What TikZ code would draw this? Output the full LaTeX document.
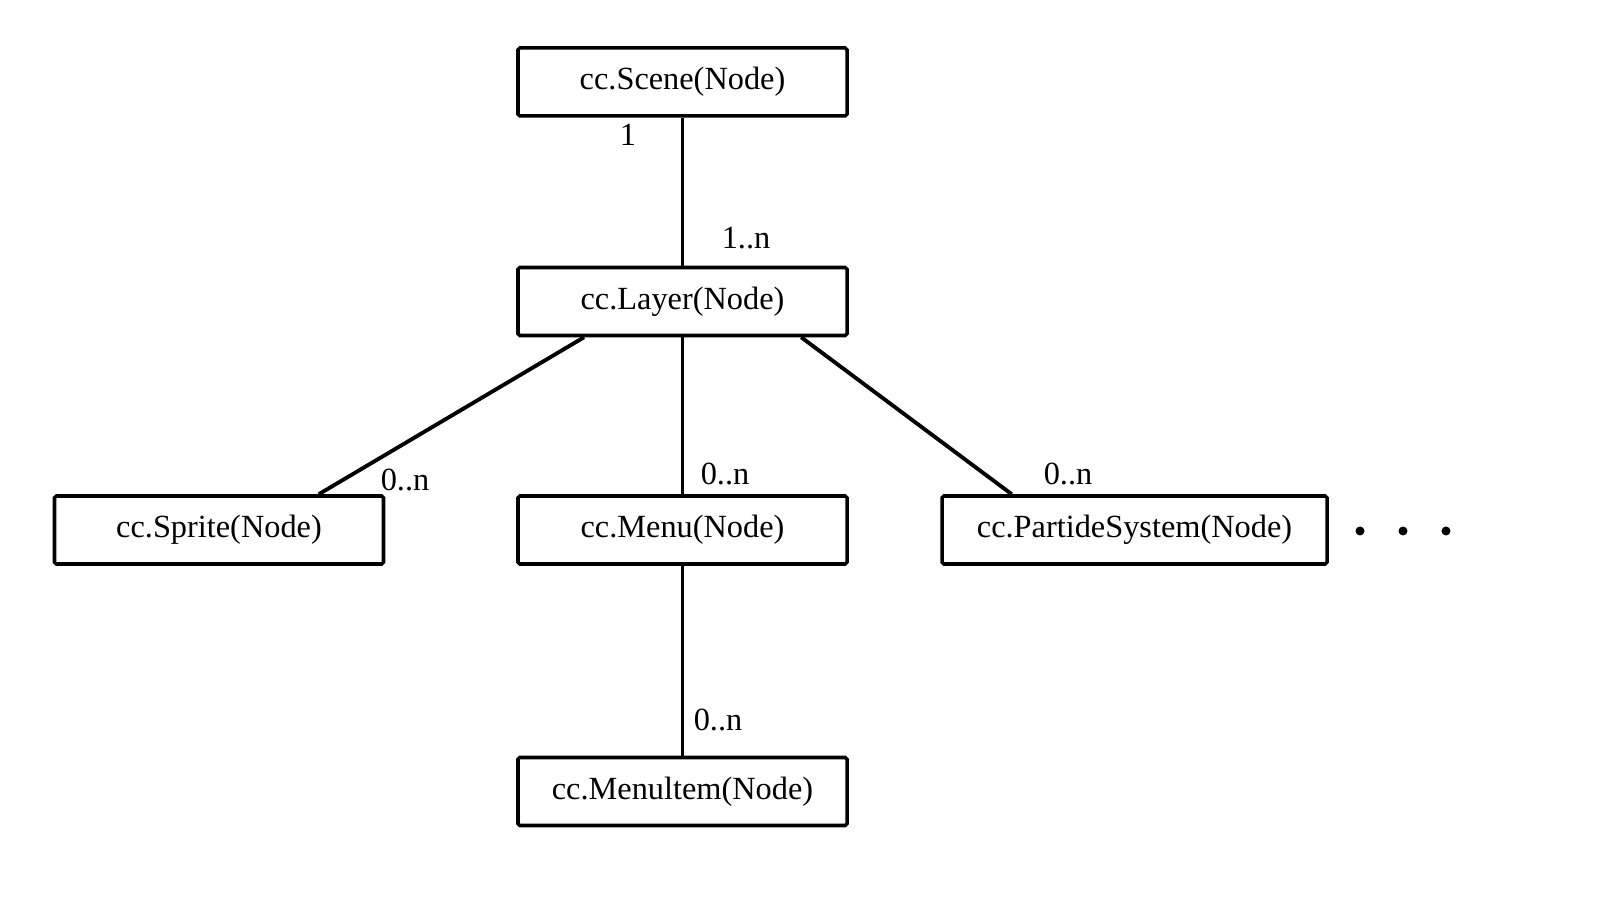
\documentclass[tikz,border=0pt]{standalone}
\usepackage{fontspec}
\setmainfont{Liberation Serif}
\usetikzlibrary{calc}

\tikzset{
  classbox/.style={draw, line width=1pt, rounded corners=0.5pt, minimum width=3.29cm,
    minimum height=0.68cm, inner sep=0pt, font=\fontsize{9.2}{11}\selectfont},
  mult/.style={font=\fontsize{9.2}{11}\selectfont, inner sep=1pt}
}

\begin{document}
\begin{tikzpicture}
\useasboundingbox (0, 0) rectangle (16.02, 9.12);

\node [classbox] (scene) at (6.825, 8.30) {cc.Scene(Node)};
\node [classbox] (layer) at (6.825, 6.105) {cc.Layer(Node)};
\node [classbox] (sprite) at (2.19, 3.82) {cc.Sprite(Node)};
\node [classbox] (menu) at (6.825, 3.82) {cc.Menu(Node)};
\node [classbox, minimum width=3.85cm] (particle) at (11.345, 3.82) {cc.PartideSystem(Node)};
\node [classbox] (menuitem) at (6.825, 1.205) {cc.Menultem(Node)};

\draw [line width=0.6pt] (scene.south) -- (layer.north);
\draw [line width=0.6pt] (layer.south) -- (menu.north);
\draw [line width=0.6pt] (menu.south) -- (menuitem.north);
\draw [line width=1.1pt] ($(layer.south west)!0.204!(layer.south east)$)
  -- ($(sprite.north west)!0.80!(sprite.north east)$);
\draw [line width=1.1pt] ($(layer.south west)!0.857!(layer.south east)$)
  -- ($(particle.north west)!0.184!(particle.north east)$);

\node [mult] (m1) at (6.28, 7.77) {1};
\node [mult] (m2) at (7.46, 6.74) {1..n};
\node [mult] (m3) at (4.05, 4.32) {0..n};
\node [mult] (m4) at (7.25, 4.38) {0..n};
\node [mult] (m5) at (10.68, 4.38) {0..n};
\node [mult] (m6) at (7.18, 1.92) {0..n};

\foreach \x in {13.60, 14.03, 14.46}
  \fill (\x, 3.81) circle [radius=0.045];

\end{tikzpicture}
\end{document}
